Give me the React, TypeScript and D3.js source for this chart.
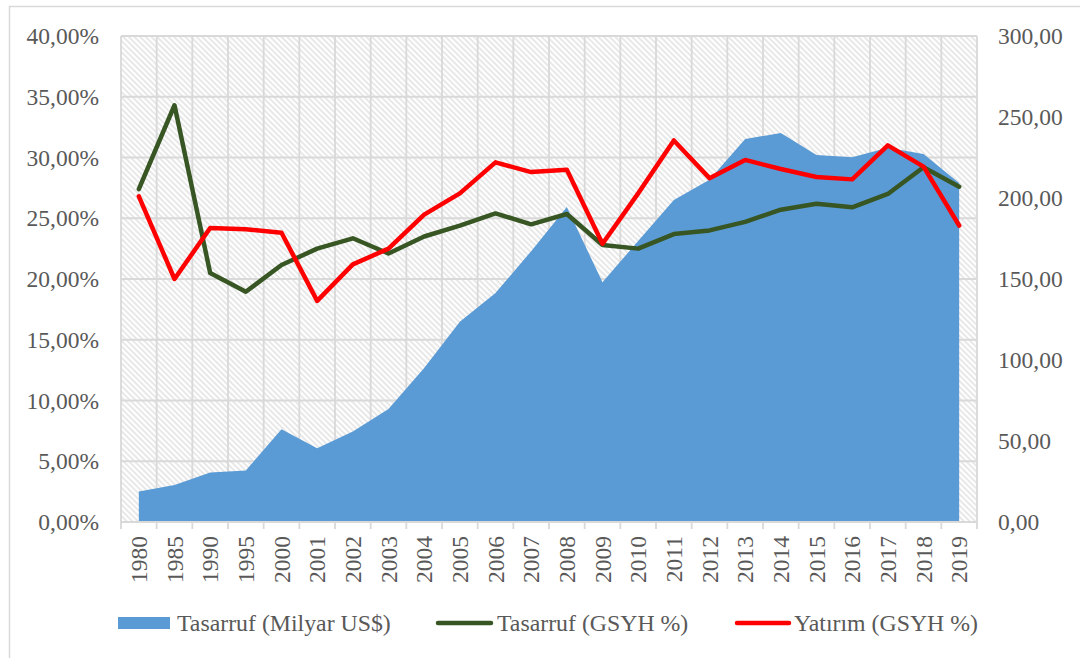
import React from "react";
import * as d3 from "d3";

const years = [
  "1980", "1985", "1990", "1995", "2000", "2001", "2002", "2003", "2004", "2005", "2006", "2007",
  "2008", "2009", "2010", "2011", "2012", "2013", "2014", "2015", "2016", "2017", "2018", "2019",
];
// Tasarruf (Milyar US$) - right axis
const savingsUSD = [
  18.8, 22.9, 30.5, 31.8, 57.2, 45.6, 55.9, 69.7, 95.0, 123.6, 141.3, 167.2,
  194.4, 148.0, 173.5, 198.8, 211.3, 236.4, 240.2, 226.5, 225.2, 231.0, 227.2, 209.2,
];
// Tasarruf (GSYH %) - left axis
const savingsGDP = [
  27.4, 34.3, 20.5, 18.95, 21.15, 22.5, 23.35, 22.1, 23.5, 24.4, 25.4, 24.5,
  25.35, 22.8, 22.5, 23.7, 24.0, 24.7, 25.7, 26.2, 25.9, 27.0, 29.2, 27.6,
];
// Yatırım (GSYH %) - left axis
const investGDP = [
  26.8, 20.0, 24.2, 24.1, 23.8, 18.2, 21.2, 22.5, 25.3, 27.05, 29.6, 28.8,
  29.0, 22.9, 27.05, 31.4, 28.3, 29.8, 29.05, 28.4, 28.2, 31.0, 29.25, 24.4,
];
const leftTicks = [0, 5, 10, 15, 20, 25, 30, 35, 40];
const rightTicks = [0, 50, 100, 150, 200, 250, 300];
const legendLabels = ["Tasarruf (Milyar US$)", "Tasarruf (GSYH %)", "Yatırım (GSYH %)"];

const W = 1080;
const H = 658;
const PL = 121;
const PR = 977;
const PT = 36;
const PB = 522;
const FONT = "'Liberation Serif', 'Times New Roman', serif";
const TXT = "#595959";
const GRID = "#d9d9d9";
const BLUE = "#5b9bd5";
const GREEN = "#375623";
const RED = "#ff0000";

export default function App() {
  const x = d3.scaleBand<string>().domain(years).range([PL, PR]).padding(0);
  const bw = x.bandwidth();
  const cx = (y: string) => (x(y) as number) + bw / 2;
  const yL = d3.scaleLinear().domain([0, 40]).range([PB, PT]);
  const yR = d3.scaleLinear().domain([0, 300]).range([PB, PT]);

  const area = d3
    .area<number>()
    .x((_, i) => cx(years[i]))
    .y0(yR(0))
    .y1((d) => yR(d));
  const lineL = d3
    .line<number>()
    .x((_, i) => cx(years[i]))
    .y((d) => yL(d));

  const boundaries = d3.range(years.length + 1).map((i) => PL + i * bw);
  const fmt = (v: number) => v.toFixed(2).replace(".", ",");

  return (
    <svg
      width={W}
      height={H}
      style={{ position: "absolute", left: 0, top: 0, background: "#fff" }}
      fontFamily={FONT}
    >
      <defs>
        <pattern
          id="hatch"
          width={4}
          height={4}
          patternUnits="userSpaceOnUse"
          patternTransform="rotate(-45)"
        >
          <rect width={4} height={4} fill="#fff" />
          <line x1={1} y1={0} x2={1} y2={4} stroke="#dcdcdc" strokeWidth={1.3} />
        </pattern>
      </defs>
      <rect x={0} y={0} width={W} height={H} fill="#fff" />
      <rect x={9.5} y={6.5} width={1080} height={700} fill="none" stroke={GRID} strokeWidth={1.5} />

      {/* plot background */}
      <rect x={PL} y={PT} width={PR - PL} height={PB - PT} fill="url(#hatch)" />

      {/* gridlines */}
      {leftTicks.map((t) => (
        <line key={"h" + t} x1={PL} x2={PR} y1={yL(t)} y2={yL(t)} stroke={GRID} strokeWidth={1.8} />
      ))}
      {boundaries.map((b, i) => (
        <line key={"v" + i} x1={b} x2={b} y1={PT} y2={PB} stroke={GRID} strokeWidth={1.8} />
      ))}

      {/* area */}
      <path d={area(savingsUSD) as string} fill={BLUE} />

      {/* axis line & ticks */}
      <line x1={PL} x2={PR} y1={PB} y2={PB} stroke={GRID} strokeWidth={1.8} />
      {boundaries.map((b, i) => (
        <line key={"t" + i} x1={b} x2={b} y1={PB} y2={PB + 7} stroke={GRID} strokeWidth={1.8} />
      ))}

      {/* lines */}
      <path
        d={lineL(savingsGDP) as string}
        fill="none"
        stroke={GREEN}
        strokeWidth={4.5}
        strokeLinejoin="round"
        strokeLinecap="round"
      />
      <path
        d={lineL(investGDP) as string}
        fill="none"
        stroke={RED}
        strokeWidth={4.5}
        strokeLinejoin="round"
        strokeLinecap="round"
      />

      {/* left axis labels */}
      {leftTicks.map((t) => (
        <text key={"l" + t} x={99} y={yL(t)} dy="0.35em" textAnchor="end" fontSize={23.5} fill={TXT}>
          {fmt(t) + "%"}
        </text>
      ))}
      {/* right axis labels */}
      {rightTicks.map((t) => (
        <text key={"r" + t} x={998} y={yR(t)} dy="0.35em" textAnchor="start" fontSize={23.5} fill={TXT}>
          {fmt(t)}
        </text>
      ))}
      {/* x labels */}
      {years.map((yv) => (
        <text
          key={"x" + yv}
          transform={`translate(${cx(yv)},${536}) rotate(-90)`}
          dy="0.35em"
          textAnchor="end"
          fontSize={23.5}
          fill={TXT}
        >
          {yv}
        </text>
      ))}

      {/* legend */}
      <rect x={118} y={617} width={52} height={12} fill={BLUE} />
      <text x={177} y={623} dy="0.35em" fontSize={23.8} fill={TXT}>
        {legendLabels[0]}
      </text>
      <line x1={438} x2={491} y1={623} y2={623} stroke={GREEN} strokeWidth={4.5} strokeLinecap="round" />
      <text x={497} y={623} dy="0.35em" fontSize={23.8} fill={TXT}>
        {legendLabels[1]}
      </text>
      <line x1={737} x2={789} y1={623} y2={623} stroke={RED} strokeWidth={4.5} strokeLinecap="round" />
      <text x={794} y={623} dy="0.35em" fontSize={23.8} fill={TXT}>
        {legendLabels[2]}
      </text>
    </svg>
  );
}
